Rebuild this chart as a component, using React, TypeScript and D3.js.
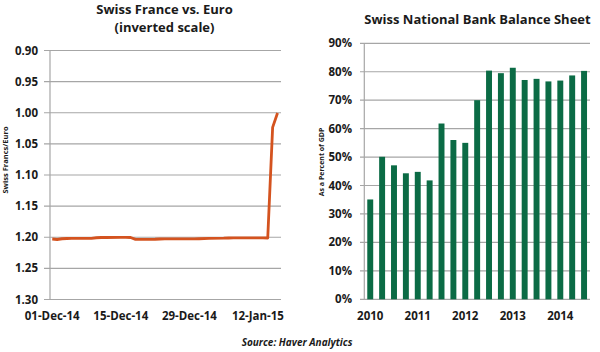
import * as d3 from 'd3';

const fxDates = [
  '2014-12-01', '2014-12-02', '2014-12-03', '2014-12-04', '2014-12-05',
  '2014-12-08', '2014-12-09', '2014-12-10', '2014-12-11', '2014-12-12',
  '2014-12-15', '2014-12-16', '2014-12-17', '2014-12-18', '2014-12-19',
  '2014-12-22', '2014-12-23', '2014-12-24', '2014-12-26',
  '2014-12-29', '2014-12-30', '2014-12-31', '2015-01-02',
  '2015-01-05', '2015-01-06', '2015-01-07', '2015-01-08', '2015-01-09',
  '2015-01-12', '2015-01-13', '2015-01-14', '2015-01-15', '2015-01-16',
];
const fxValues = [
  1.2028, 1.2036, 1.2024, 1.2020, 1.2018,
  1.2019, 1.2017, 1.2008, 1.2004, 1.2004,
  1.2003, 1.2002, 1.2004, 1.2034, 1.2033,
  1.2032, 1.2028, 1.2026, 1.2025,
  1.2027, 1.2026, 1.2024, 1.2017,
  1.2015, 1.2012, 1.2010, 1.2010, 1.2010,
  1.2011, 1.2010, 1.2012, 1.0235, 1.0005,
];
const fxTicks = [0.9, 0.95, 1.0, 1.05, 1.1, 1.15, 1.2, 1.25, 1.3];
const fxDateLabels = ['2014-12-01', '2014-12-15', '2014-12-29', '2015-01-12'];

const quarters = [
  '2010Q1', '2010Q2', '2010Q3', '2010Q4',
  '2011Q1', '2011Q2', '2011Q3', '2011Q4',
  '2012Q1', '2012Q2', '2012Q3', '2012Q4',
  '2013Q1', '2013Q2', '2013Q3', '2013Q4',
  '2014Q1', '2014Q2', '2014Q3',
];
const snbValues = [
  35.1, 50.1, 47.1, 44.3, 44.8, 41.8, 61.8, 56.0, 55.0, 70.0,
  80.4, 79.5, 81.4, 77.1, 77.5, 76.6, 76.9, 78.7, 80.3,
];
const pctTicks = [0, 10, 20, 30, 40, 50, 60, 70, 80, 90];

const FONT = "'Open Sans', sans-serif";
const TEXT = '#1a1a1a';
const GRID = '#a6a6a6';
const LINE = '#d4531f';
const BAR = '#0b6b45';

const parse = d3.timeParse('%Y-%m-%d');
const fmtDate = d3.timeFormat('%d-%b-%y');

export default function App() {
  // left chart: franc vs euro, inverted
  const x = d3.scaleTime()
    .domain([new Date(2014, 10, 30, 13), new Date(2015, 0, 16, 17)])
    .range([50, 281]);
  const y = d3.scaleLinear().domain([0.9, 1.3]).range([50.5, 299.5]);
  const fx = fxDates.map((d, i) => ({ date: parse(d) as Date, value: fxValues[i] }));
  const line = d3.line<typeof fx[0]>()
    .x(d => x(d.date))
    .y(d => y(d.value));

  // right chart: SNB balance sheet
  const xb = d3.scaleBand().domain(quarters).range([364.3, 590]).paddingInner(0.5).paddingOuter(0.25);
  const yb = d3.scaleLinear().domain([0, 90]).range([299.3, 43.3]);

  return (
    <svg width={600} height={352} style={{ position: 'absolute', left: 0, top: 0, background: '#fff' }}
      fontFamily={FONT}>
      {/* left titles */}
      <text x={164.5} y={14} textAnchor="middle" fontSize={13} fontWeight={700} fill={TEXT}>Swiss France vs. Euro</text>
      <text x={164.5} y={32} textAnchor="middle" fontSize={13} fontWeight={700} fill={TEXT}>(inverted scale)</text>

      {fxTicks.map(t => (
        <g key={t}>
          <line x1={44} x2={281} y1={y(t)} y2={y(t)} stroke={GRID} strokeWidth={1.2} />
          <text x={38} y={y(t)} dy="0.35em" textAnchor="end" fontSize={11.5} fontWeight={700} fill={TEXT}>
            {t.toFixed(2)}
          </text>
        </g>
      ))}
      <line x1={50} x2={50} y1={y(0.9)} y2={y(1.3)} stroke={GRID} strokeWidth={1.2} />
      {fxDateLabels.map(d => (
        <text key={d} x={x(parse(d) as Date)} y={320} textAnchor="middle" fontSize={11.5} fontWeight={700} fill={TEXT}>
          {fmtDate(parse(d) as Date)}
        </text>
      ))}
      <text transform="translate(8,160) rotate(-90)" textAnchor="middle" fontSize={7.5} fontWeight={700} fill={TEXT}>
        Swiss Francs/Euro
      </text>
      <path d={line(fx) ?? ''} fill="none" stroke={LINE} strokeWidth={2.8} strokeLinejoin="round" />

      {/* right titles */}
      <text x={477.5} y={24} textAnchor="middle" fontSize={13} fontWeight={700} fill={TEXT}>Swiss National Bank Balance Sheet</text>

      {pctTicks.map(t => (
        <g key={t}>
          <line x1={360} x2={590} y1={yb(t)} y2={yb(t)} stroke={GRID} strokeWidth={1.2} />
          <text x={352} y={yb(t)} dy="0.35em" textAnchor="end" fontSize={11.5} fontWeight={700} fill={TEXT}>
            {t}%
          </text>
        </g>
      ))}
      <line x1={364.3} x2={364.3} y1={yb(90)} y2={yb(0)} stroke={GRID} strokeWidth={1.2} />
      {quarters.map((q, i) => (
        <rect key={q} x={xb(q)} y={yb(snbValues[i])} width={xb.bandwidth()} height={yb(0) - yb(snbValues[i])} fill={BAR} />
      ))}
      {quarters.filter(q => q.endsWith('Q1')).map(q => (
        <text key={q} x={(xb(q) ?? 0) + xb.bandwidth() / 2} y={320} textAnchor="middle" fontSize={11.5} fontWeight={700} fill={TEXT}>
          {q.slice(0, 4)}
        </text>
      ))}
      <text transform="translate(324,162) rotate(-90)" textAnchor="middle" fontSize={7} fontWeight={700} fill={TEXT}>
        As a Percent of GDP
      </text>

      <text x={297} y={346} textAnchor="middle" fontSize={10} fontWeight={700} fontStyle="italic" fill={TEXT}>
        Source: Haver Analytics
      </text>
    </svg>
  );
}
